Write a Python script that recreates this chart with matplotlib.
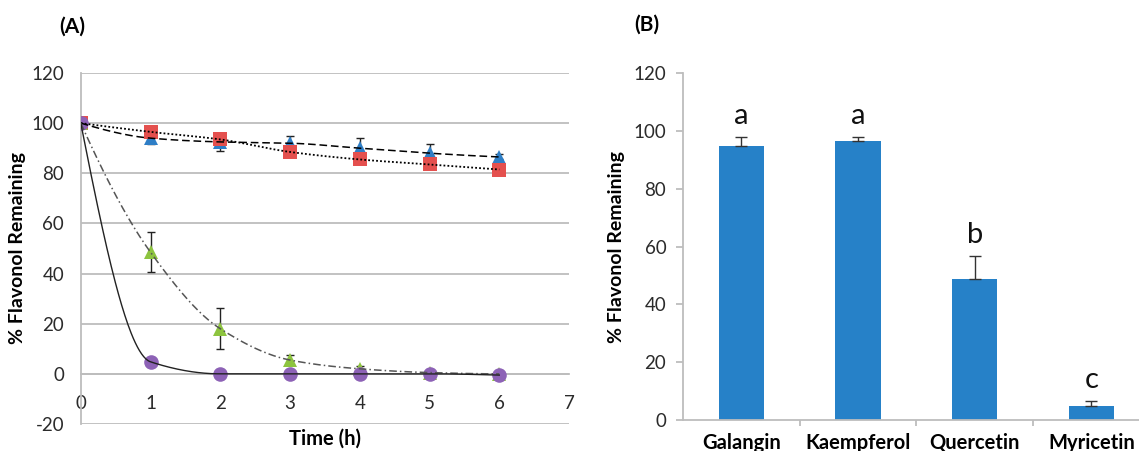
import numpy as np
import matplotlib
matplotlib.use("Agg")
import matplotlib.pyplot as plt
from matplotlib.ticker import MultipleLocator, FixedLocator

plt.rcParams['font.family'] = ['Lato', 'DejaVu Sans']
plt.rcParams['axes.unicode_minus'] = False

# ---- Panel A: flavonol remaining over time ----
time_h = [0, 1, 2, 3, 4, 5, 6]
galangin = [100, 94.0, 92.5, 92.0, 90.0, 88.0, 86.5]
galangin_err = [0, 2.4, 3.5, 2.8, 4.2, 3.5, 1.0]
kaempferol = [100, 96.5, 93.5, 88.5, 85.5, 83.5, 81.5]
kaempferol_err = [0, 1.5, 1.5, 1.5, 1.5, 1.5, 1.5]
quercetin = [100, 48.5, 18.0, 5.5, 2.0, 0.5, 0.0]
quercetin_err = [0, 8.0, 8.2, 2.0, 1.0, 0, 0]
myricetin = [100, 4.8, 0.0, 0.0, 0.0, 0.0, -0.5]
myricetin_err = [0, 0, 0, 0, 0, 0, 0]

# ---- Panel B: remaining after treatment ----
compounds = ["Galangin", "Kaempferol", "Quercetin", "Myricetin"]
remaining = [94.7, 96.4, 48.7, 4.8]
remaining_err = [3.2, 1.5, 8.1, 1.8]
group_letters = ["a", "a", "b", "c"]

BLUE = "#2E7EC6"
RED = "#E4504E"
GREEN = "#8DC43F"
PURPLE = "#8D62B6"
BAR = "#2681C8"
GRID = "#BDBDBD"
TXT = "#2B2B2B"


def pchip(x, y, xs):
    """Shape-preserving cubic interpolation used for the smoothed lines."""
    x = np.asarray(x, float)
    y = np.asarray(y, float)
    h = np.diff(x)
    d = np.diff(y) / h
    n = len(x)
    m = np.zeros(n)
    for k in range(1, n - 1):
        if d[k - 1] * d[k] > 0:
            w1 = 2 * h[k] + h[k - 1]
            w2 = h[k] + 2 * h[k - 1]
            m[k] = (w1 + w2) / (w1 / d[k - 1] + w2 / d[k])
    def end(h0, h1, d0, d1):
        v = ((2 * h0 + h1) * d0 - h0 * d1) / (h0 + h1)
        if np.sign(v) != np.sign(d0):
            v = 0.0
        elif np.sign(d0) != np.sign(d1) and abs(v) > abs(3 * d0):
            v = 3 * d0
        return v
    m[0] = end(h[0], h[1], d[0], d[1])
    m[-1] = end(h[-1], h[-2], d[-1], d[-2])
    xs = np.asarray(xs, float)
    idx = np.clip(np.searchsorted(x, xs) - 1, 0, n - 2)
    t = (xs - x[idx]) / h[idx]
    h00 = 2 * t**3 - 3 * t**2 + 1
    h10 = t**3 - 2 * t**2 + t
    h01 = -2 * t**3 + 3 * t**2
    h11 = t**3 - t**2
    return h00 * y[idx] + h10 * h[idx] * m[idx] + h01 * y[idx + 1] + h11 * h[idx] * m[idx + 1]


fig = plt.figure(figsize=(11.39, 4.51), dpi=100)

# Panel A axes
axA = fig.add_axes([0.0709, 0.0599, 0.4287, 0.7783])
axA.set_xlim(0, 7)
axA.set_ylim(-20, 120)
axA.yaxis.set_major_locator(MultipleLocator(20))
axA.xaxis.set_major_locator(MultipleLocator(1))
axA.grid(axis='y', color=GRID, linewidth=1.3)
axA.set_axisbelow(True)
for s in ("top", "right"):
    axA.spines[s].set_visible(False)
axA.spines['bottom'].set_position(('data', 0))
axA.spines['bottom'].set_color(GRID)
axA.spines['bottom'].set_linewidth(1.3)
axA.spines['left'].set_color(GRID)
axA.spines['left'].set_linewidth(1.3)
axA.tick_params(axis='x', length=0, pad=15, labelsize=13.5, labelcolor=TXT)
axA.tick_params(axis='y', length=0, pad=12, labelsize=13.5, labelcolor=TXT)
axA.set_ylabel("% Flavonol Remaining", fontsize=14, fontweight='bold', labelpad=4)

xs = np.linspace(0, 6, 400)
series = [
    (galangin, galangin_err, BLUE, '^', (0, (5, 2.5)), 'black', 1.1),
    (kaempferol, kaempferol_err, RED, 's', (0, (1, 1.2)), 'black', 1.3),
    (quercetin, quercetin_err, GREEN, '^', (0, (5, 2, 1, 2)), '#555555', 1.1),
    (myricetin, myricetin_err, PURPLE, 'o', '-', '#222222', 1.0),
]
for vals, err, col, mk, ls, lc, lw in series:
    axA.errorbar(time_h, vals, yerr=err, fmt='none', ecolor='#222222',
                 elinewidth=1.0, capsize=3.2, capthick=1.0, zorder=3)
    axA.plot(time_h, vals, linestyle='none', marker=mk, markersize=10.5,
             color=col, markeredgewidth=0, zorder=4)
    axA.plot(xs, pchip(time_h, vals, xs), linestyle=ls, color=lc,
             linewidth=lw, zorder=5)

fig.text(325 / 1139, 1 - 449 / 451, "Time (h)", ha='center', va='bottom',
         fontsize=14.5, fontweight='bold')
fig.text(72 / 1139, 1 - 27 / 451, "(A)", ha='center', va='center',
         fontsize=15, fontweight='bold')

# Panel B axes
axB = fig.add_axes([0.5996, 0.0687, 0.4098, 0.7694])
pos = np.arange(len(compounds))
axB.bar(pos, remaining, width=0.39, color=BAR, zorder=2)
axB.errorbar(pos, remaining, yerr=[np.zeros(len(remaining)), remaining_err],
             fmt='none', ecolor='#333333', elinewidth=1.0, capsize=4.5,
             capthick=1.0, zorder=3)
for p, v, e, lab in zip(pos, remaining, remaining_err, group_letters):
    axB.text(p, v + e + 7.3, lab, ha='center', va='center', fontsize=21,
             color='#111111')
axB.set_xlim(-0.5, 3.5)
axB.set_ylim(0, 120)
axB.yaxis.set_major_locator(MultipleLocator(20))
axB.set_xticks(pos)
axB.set_xticklabels(compounds, fontweight='bold', fontsize=14.5)
axB.xaxis.set_minor_locator(FixedLocator(pos[:-1] + 0.5))
for s in ("top", "right"):
    axB.spines[s].set_visible(False)
for s in ("left", "bottom"):
    axB.spines[s].set_color(GRID)
    axB.spines[s].set_linewidth(1.3)
axB.tick_params(axis='x', which='major', length=0, pad=9)
axB.tick_params(axis='x', which='minor', length=4, color=GRID, width=1.3)
axB.tick_params(axis='y', length=5, color=GRID, width=1.3, pad=7,
                labelsize=13.5, labelcolor=TXT)
axB.set_ylabel("% Flavonol Remaining", fontsize=14, fontweight='bold', labelpad=6)
fig.text(647 / 1139, 1 - 25 / 451, "(B)", ha='center', va='center',
         fontsize=15, fontweight='bold')

fig.savefig("out.png", dpi=100)
